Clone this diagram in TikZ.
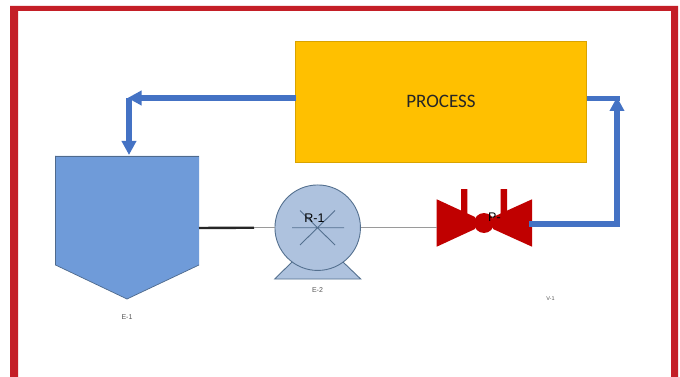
\documentclass[tikz,border=0pt]{standalone}
\usepackage{fontspec}
\setmainfont{Liberation Sans}
\newfontfamily\procfont{Carlito}
\definecolor{framered}{HTML}{C41F27}
\definecolor{procgold}{HTML}{FFC000}
\definecolor{flowblue}{HTML}{4472C4}
\definecolor{tankblue}{HTML}{6F9BD9}
\definecolor{tankedge}{HTML}{4F6A8C}
\definecolor{pumpblue}{HTML}{AEC2DE}
\definecolor{pumpedge}{HTML}{54708F}
\definecolor{valvered}{HTML}{C00000}
\definecolor{thinline}{HTML}{9A9A9A}
\definecolor{labelgrey}{HTML}{555555}
\usetikzlibrary{arrows.meta}
\tikzset{
  tag/.style={font=\fontsize{7}{8}\selectfont,text=labelgrey,inner sep=0pt},
  vtag/.style={font=\fontsize{5.5}{6}\selectfont,text=labelgrey,inner sep=0pt},
  inname/.style={font=\fontsize{12.5}{14}\selectfont,text=black,inner sep=0pt},
  flow/.style={draw=flowblue,line width=5.2pt,line join=miter},
  flowtip/.style={flow,-{Triangle[length=14pt,width=14pt]}},
  pumpline/.style={draw=pumpedge,line width=0.9pt},
  thin pipe/.style={draw=thinline,line width=1pt},
}
\begin{document}
\begin{tikzpicture}[x=1pt,y=-1pt]
\useasboundingbox (0,0) rectangle (680,377);
\fill[white] (0,0) rectangle (680,377);
% frame
\fill[framered] (10,6) -- (678,6) -- (678,377) -- (671,377) -- (671,11) -- (18,11) -- (18,377) -- (10,377) -- cycle;
% process
\node[draw=procgold!85!black,line width=0.4pt,fill=procgold,minimum width=291pt,minimum height=121pt,inner sep=0pt,
      font=\procfont\fontsize{19}{22}\selectfont,text=black!85] (proc) at (441,101.5) {PROCESS};
% tank
\fill[tankblue] (55.5,156) coordinate (tankNW) -- (199,156) coordinate (tankNE) -- (199,265) -- (127,299) coordinate (tankB) -- (55.5,265) -- cycle;
\draw[tankedge,line width=0.7pt] (199,265) -- (127,299) -- (55.5,265) -- (55.5,156);
\draw[tankedge,line width=0.4pt] (55.5,156) -- (199,156);
\coordinate (tankOut) at (199,228);
\coordinate (tankIn) at (129,155);
\node[tag] (e1) at (127,317) {E-1};
% pump
\filldraw[fill=pumpblue,pumpline] (292,262) -- (274.7,279) -- (360.7,279) -- (343,262) -- cycle;
\node[circle,draw=pumpedge,line width=0.9pt,fill=pumpblue,minimum size=85.5pt,inner sep=0pt] (pump) at (317.7,227.7) {};
\draw[pumpline] (292,227.7) -- (344,227.7) (300,210.5) -- (335,245) (335,210.5) -- (300,245);
\node[inname] (r1) at (314.5,218.5) {R-1};
\node[tag] (e2) at (317.5,290) {E-2};
% valve
\fill[valvered] (461,189) rectangle (467.3,215) (500.7,189) rectangle (507,215);
\fill[valvered] (436.7,199.3) coordinate (valveW) -- (475,217) -- (475,229) -- (436.7,246.7) -- cycle;
\fill[valvered] (532,199.3) -- (493,217) -- (493,229) -- (532,246.7) -- cycle;
\node[circle,fill=valvered,minimum size=20pt,inner sep=0pt] (valve) at (484,223) {};
\coordinate (valveIn) at (436.7,227.7);
\coordinate (valveOut) at (529,224);
\node[inname,anchor=west] (p1) at (488,217.5) {P-};
\node[vtag] (v1) at (550.5,299) {V-1};
% pipes
\coordinate (tankPipeEnd) at (254,227.7);
\draw[black!85,line width=2.4pt] (tankOut) -- (tankPipeEnd);
\draw[thin pipe] (tankPipeEnd) -- (pump.west);
\draw[thin pipe] (pump.east) -- (valveIn);
% blue flows
\coordinate (cornerL) at (129,98);
\coordinate (headL) at (127.5,98);
\coordinate (cornerR) at (617,224);
\coordinate (tipR) at (617,97);
\coordinate (joinR) at (619.5,98.5);
\coordinate (procR) at (587,98.5);
\coordinate (procL) at (296,98);
\draw[flow] (procR) -- (joinR);
\draw[flowtip] (valveOut) -- (cornerR) -- (tipR);
\draw[flowtip] (procL) -- (headL);
\draw[flowtip] (cornerL) -- (tankIn);
\end{tikzpicture}
\end{document}
